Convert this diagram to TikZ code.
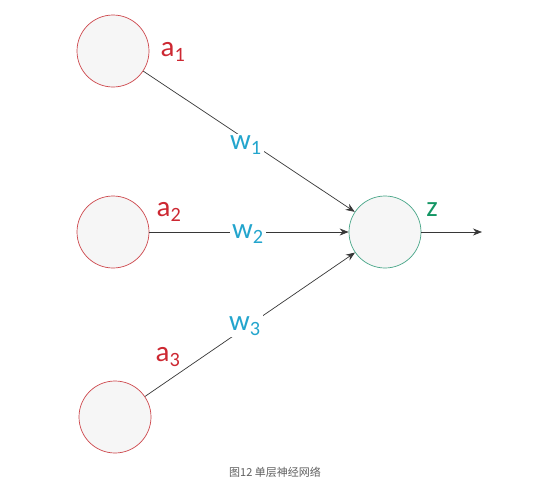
\documentclass[tikz,border=0pt]{standalone}
\usepackage{fontspec}
\setmainfont{Carlito}
\newfontfamily\cjk{Noto Sans CJK SC}
\usetikzlibrary{arrows.meta}
\definecolor{inred}{RGB}{205,40,50}
\definecolor{inborder}{RGB}{205,70,75}
\definecolor{wblue}{RGB}{35,165,205}
\definecolor{zgreen}{RGB}{20,150,100}
\definecolor{outborder}{RGB}{70,165,135}
\definecolor{cfill}{RGB}{246,246,246}
\definecolor{edgegray}{RGB}{55,55,55}
\definecolor{capgray}{RGB}{95,95,95}
\tikzset{
  neuron/.style={circle, minimum size=72pt, inner sep=0pt, fill=cfill, line width=0.7pt},
  inneuron/.style={neuron, draw=inborder},
  outneuron/.style={neuron, draw=outborder},
  conn/.style={draw=edgegray, line width=0.7pt, -{Stealth[length=9pt,width=7pt]}},
  alabel/.style={text=inred, font=\fontsize{29}{32}\selectfont, inner sep=1pt},
  wlabel/.style={text=wblue, font=\fontsize{29}{32}\selectfont, fill=white, inner sep=2pt},
  zlabel/.style={text=zgreen, font=\fontsize{29}{32}\selectfont, inner sep=1pt},
}
\begin{document}
\begin{tikzpicture}[x=1pt,y=-1pt]
\fill[white] (0,0) rectangle (550,501);
\useasboundingbox (0,0) rectangle (550,501);
\node[inneuron] (a1) at (113,51) {};
\node[inneuron] (a2) at (113,232) {};
\node[inneuron] (a3) at (115,417) {};
\node[outneuron] (o) at (385,232) {};
\coordinate (end) at (482,232);
\draw[conn] (a1) -- (o);
\draw[conn] (a2) -- (o);
\draw[conn] (a3) -- (o);
\draw[conn] (o) -- (end);
\node[wlabel] (w1) at (246,145) {w\textsubscript{1}};
\node[wlabel] (w2) at (248,234) {w\textsubscript{2}};
\node[wlabel] (w3) at (245,326) {w\textsubscript{3}};
\node[alabel] (la1) at (173,52) {a\textsubscript{1}};
\node[alabel] (la2) at (169,212) {a\textsubscript{2}};
\node[alabel] (la3) at (168,357) {a\textsubscript{3}};
\node[zlabel] (lz) at (432,210) {z};
\node[text=capgray, font=\cjk\fontsize{11}{13}\selectfont] (cap) at (275,472) {图12 单层神经网络};
\end{tikzpicture}
\end{document}
